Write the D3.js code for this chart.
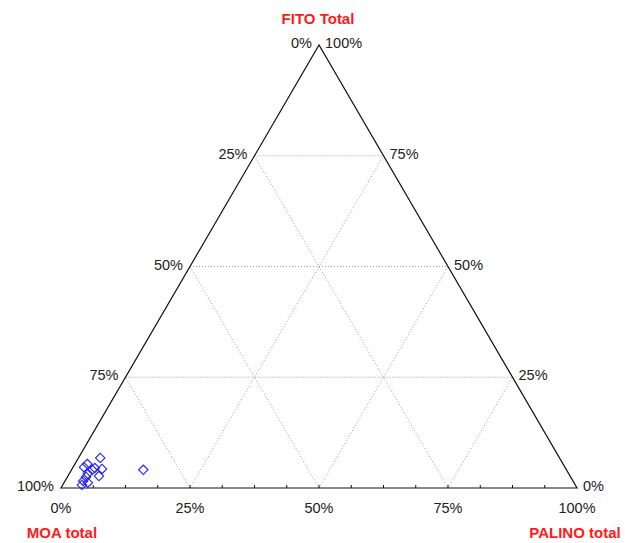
<!DOCTYPE html>
<html>
<head>
<meta charset="utf-8">
<script src="https://cdn.jsdelivr.net/npm/d3@7"></script>
<style>
  html, body { margin: 0; padding: 0; background: #fff; }
  svg { display: block; }
  text { font-family: Arial, "Liberation Sans", sans-serif; }
</style>
</head>
<body>
<svg id="chart" width="625" height="543"></svg>
<script>
// Composition of each sample (percent of total)
const fito   = [6.8, 4.7, 4.1, 4.3, 3.2, 2.7, 1.6, 0.7, 4.1, 2.5, 4.5, 5.4, 1.2];
const palino = [4.2, 2.1, 4.0, 5.8, 3.6, 6.0, 3.5, 3.7, 13.9, 3.6, 4.3, 2.4, 4.6];
const moa    = [89.0, 93.2, 91.9, 89.9, 93.2, 91.3, 94.9, 95.6, 82.0, 93.9, 91.2, 92.2, 94.2];

// Axis titles and tick labels
const titleTop = "FITO Total";
const titleLeft = "MOA total";
const titleRight = "PALINO total";
const gridLevels = [25, 50, 75];
const tickLevels = [0, 25, 50, 75, 100];
const baseLabels = ["0%", "25%", "50%", "75%", "100%"];        // PALINO along the base
const leftLabels = ["100%", "75%", "50%", "25%", "0%"];        // MOA along the left edge, bottom to top
const rightLabels = ["0%", "25%", "50%", "75%", "100%"];       // FITO along the right edge, bottom to top

const svg = d3.select("#chart");

// FITO maps to height, horizontal position is PALINO + FITO/2
const fy = d3.scaleLinear().domain([0, 100]).range([488, 45]);
const px = d3.scaleLinear().domain([0, 100]).range([61, 577]);
const pos = (f, p) => [px(p + f / 2), fy(f)];

const line = d3.line();

// Dotted grid lines in the three directions
const grid = svg.append("g")
  .attr("fill", "none")
  .attr("stroke", "#9a9a9a")
  .attr("stroke-width", 1)
  .attr("stroke-dasharray", "1,2");
gridLevels.forEach(v => {
  // constant FITO (horizontal)
  grid.append("path").attr("d", line([pos(v, 0), pos(v, 100 - v)]));
  // constant PALINO (parallel to left edge)
  grid.append("path").attr("d", line([pos(0, v), pos(100 - v, v)]));
  // constant MOA (parallel to right edge)
  grid.append("path").attr("d", line([pos(0, 100 - v), pos(100 - v, 0)]));
});

// Triangle outline
const A = pos(0, 0), B = pos(0, 100), C = pos(100, 0);
svg.append("path")
  .attr("d", line([A, B, C]) + "Z")
  .attr("fill", "none")
  .attr("stroke", "#111")
  .attr("stroke-width", 1.2);

// Minor ticks along the base
const minor = d3.range(1, 16).map(i => i * 100 / 16);
const ticks = svg.append("g").attr("stroke", "#111").attr("stroke-width", 1);
minor.forEach(v => {
  const [bx, by] = pos(0, v);
  ticks.append("line").attr("x1", bx).attr("y1", by).attr("x2", bx).attr("y2", by - 3);
});

// Tick labels
const lab = svg.append("g").attr("font-size", 14.5).attr("fill", "#222");
tickLevels.forEach((v, i) => {
  const [bx, by] = pos(0, v);
  lab.append("text").attr("x", bx).attr("y", by + 25)
    .attr("text-anchor", "middle").text(baseLabels[i]);
  const [lx, ly] = pos(v, 0);
  lab.append("text").attr("x", lx - 7).attr("y", ly + 3)
    .attr("text-anchor", "end").text(leftLabels[i]);
  const [rx, ry] = pos(v, 100 - v);
  lab.append("text").attr("x", rx + 6).attr("y", ry + 3)
    .attr("text-anchor", "start").text(rightLabels[i]);
});

// Vertex titles
const titles = svg.append("g")
  .attr("font-size", 15).attr("font-weight", "bold")
  .attr("fill", "#ff1a1a").attr("text-anchor", "middle");
titles.append("text").attr("x", 318).attr("y", 24).text(titleTop);
titles.append("text").attr("x", 62).attr("y", 538).text(titleLeft);
titles.append("text").attr("x", 575).attr("y", 538).text(titleRight);

// Sample points as open diamonds
const diamond = d3.symbol().type(d3.symbolSquare).size(44);
svg.append("g").selectAll("path")
  .data(fito.map((f, i) => ({ f, p: palino[i], m: moa[i] })))
  .join("path")
  .attr("d", diamond)
  .attr("transform", d => {
    const [x, y] = pos(d.f, d.p);
    return `translate(${x},${y}) rotate(45)`;
  })
  .attr("fill", "none")
  .attr("stroke", "#2020ff")
  .attr("stroke-width", 1.1);
</script>
</body>
</html>
